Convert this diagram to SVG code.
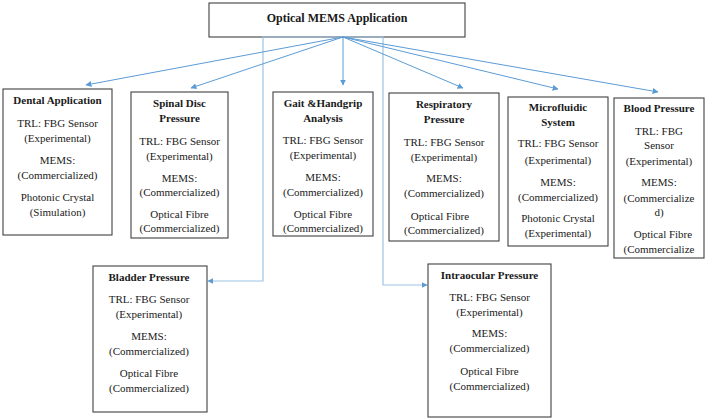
<svg xmlns="http://www.w3.org/2000/svg" width="708" height="420" viewBox="0 0 708 420">
<style>
.box{fill:#fff;stroke:#404040;stroke-width:1.1}
.t{font-family:"Liberation Serif","Times New Roman",serif;font-size:11px;fill:#1a1a1a;text-anchor:middle}
.b{font-weight:bold}
.title{font-size:12px}
.c{fill:none;stroke:#5b9bd5;stroke-width:1}
.e{fill:none;stroke:#9dc3e6;stroke-width:1.2}
</style>
<defs>
<marker id="ah" viewBox="0 0 10 10" refX="9" refY="5" markerWidth="6" markerHeight="6" markerUnits="userSpaceOnUse" orient="auto">
<path d="M0,0 L10,5 L0,10 z" fill="#5b9bd5"/>
</marker>
</defs>
<rect width="708" height="420" fill="#fff"/>
<g id="root">
<rect class="box" x="209" y="3" width="256" height="34"/>
<text class="t b title" x="337" y="22">Optical MEMS Application</text>
</g>
<g id="connectors">
<path class="e" d="M343,37 H263 V281 H208" marker-end="url(#ah)"/>
<path class="e" d="M343,37 H383 V285 H427" marker-end="url(#ah)"/>
<line class="c" x1="343" y1="37" x2="86" y2="85" marker-end="url(#ah)"/>
<line class="c" x1="343" y1="37" x2="191" y2="88" marker-end="url(#ah)"/>
<line class="c" x1="343" y1="37" x2="343" y2="85" marker-end="url(#ah)"/>
<line class="c" x1="343" y1="37" x2="463" y2="88" marker-end="url(#ah)"/>
<line class="c" x1="343" y1="37" x2="558" y2="89" marker-end="url(#ah)"/>
<line class="c" x1="343" y1="37" x2="658" y2="92" marker-end="url(#ah)"/>
</g>
<g id="dental">
<rect class="box" x="3" y="89" width="109" height="146"/>
<text class="t b" x="57.5" y="104">Dental Application</text>
<text class="t" x="57.5" y="127">TRL: FBG Sensor</text>
<text class="t" x="57.5" y="142">(Experimental)</text>
<text class="t" x="57.5" y="164">MEMS:</text>
<text class="t" x="57.5" y="179">(Commercialized)</text>
<text class="t" x="57.5" y="201">Photonic Crystal</text>
<text class="t" x="57.5" y="216">(Simulation)</text>
</g>
<g id="spinal">
<rect class="box" x="131" y="92" width="97" height="146"/>
<text class="t b" x="179.5" y="107">Spinal Disc</text>
<text class="t b" x="179.5" y="122">Pressure</text>
<text class="t" x="179.5" y="145">TRL: FBG Sensor</text>
<text class="t" x="179.5" y="160">(Experimental)</text>
<text class="t" x="179.5" y="182">MEMS:</text>
<text class="t" x="179.5" y="196">(Commercialized)</text>
<text class="t" x="179.5" y="218">Optical Fibre</text>
<text class="t" x="179.5" y="232">(Commercialized)</text>
</g>
<g id="gait">
<rect class="box" x="273" y="92" width="100" height="144"/>
<text class="t b" x="323" y="107">Gait &amp;Handgrip</text>
<text class="t b" x="323" y="122">Analysis</text>
<text class="t" x="323" y="144">TRL: FBG Sensor</text>
<text class="t" x="323" y="159">(Experimental)</text>
<text class="t" x="323" y="181">MEMS:</text>
<text class="t" x="323" y="196">(Commercialized)</text>
<text class="t" x="323" y="218">Optical Fibre</text>
<text class="t" x="323" y="232">(Commercialized)</text>
</g>
<g id="respiratory">
<rect class="box" x="389" y="93" width="110" height="148"/>
<text class="t b" x="444" y="108">Respiratory</text>
<text class="t b" x="444" y="123">Pressure</text>
<text class="t" x="444" y="146">TRL: FBG Sensor</text>
<text class="t" x="444" y="161">(Experimental)</text>
<text class="t" x="444" y="182">MEMS:</text>
<text class="t" x="444" y="197">(Commercialized)</text>
<text class="t" x="440" y="220">Optical Fibre</text>
<text class="t" x="444" y="234">(Commercialized)</text>
</g>
<g id="microfluidic">
<rect class="box" x="508" y="97" width="100" height="149"/>
<text class="t b" x="558" y="111">Microfluidic</text>
<text class="t b" x="558" y="126">System</text>
<text class="t" x="558" y="147">TRL: FBG Sensor</text>
<text class="t" x="558" y="164">(Experimental)</text>
<text class="t" x="558" y="186">MEMS:</text>
<text class="t" x="558" y="201">(Commercialized)</text>
<text class="t" x="558" y="222">Photonic Crystal</text>
<text class="t" x="558" y="237">(Experimental)</text>
</g>
<g id="blood">
<rect class="box" x="614" y="98" width="90" height="160"/>
<text class="t b" x="659" y="112">Blood Pressure</text>
<text class="t" x="659" y="135">TRL: FBG</text>
<text class="t" x="659" y="149">Sensor</text>
<text class="t" x="659" y="165">(Experimental)</text>
<text class="t" x="659" y="186">MEMS:</text>
<text class="t" x="659" y="202">(Commercialize</text>
<text class="t" x="659" y="216">d)</text>
<text class="t" x="663" y="238">Optical Fibre</text>
<text class="t" x="659" y="253">(Commercialize</text>
</g>
<g id="bladder">
<rect class="box" x="93" y="266" width="114" height="146"/>
<text class="t b" x="149" y="281">Bladder Pressure</text>
<text class="t" x="149" y="303">TRL: FBG Sensor</text>
<text class="t" x="149" y="318">(Experimental)</text>
<text class="t" x="149" y="340">MEMS:</text>
<text class="t" x="149" y="355">(Commercialized)</text>
<text class="t" x="149" y="377">Optical Fibre</text>
<text class="t" x="149" y="392">(Commercialized)</text>
</g>
<g id="intraocular">
<rect class="box" x="428" y="264" width="123" height="153"/>
<text class="t b" x="489.5" y="279">Intraocular Pressure</text>
<text class="t" x="489.5" y="301">TRL: FBG Sensor</text>
<text class="t" x="489.5" y="316">(Experimental)</text>
<text class="t" x="489.5" y="337">MEMS:</text>
<text class="t" x="489.5" y="352">(Commercialized)</text>
<text class="t" x="489.5" y="375">Optical Fibre</text>
<text class="t" x="489.5" y="390">(Commercialized)</text>
</g>
</svg>
